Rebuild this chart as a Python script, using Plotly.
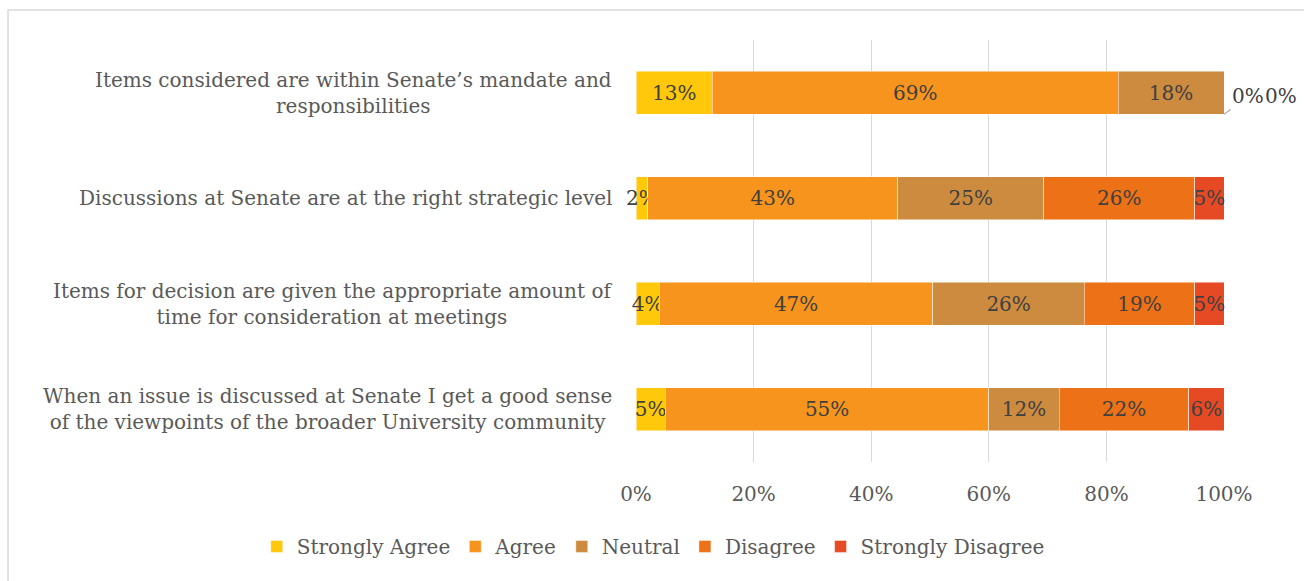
import plotly.graph_objects as go

# Survey statements (top to bottom)
statements = [
    "Items considered are within Senate’s mandate and<br>responsibilities",
    "Discussions at Senate are at the right strategic level",
    "Items for decision are given the appropriate amount of<br>time for consideration at meetings",
    "When an issue is discussed at Senate I get a good sense<br>of the viewpoints of the broader University community",
]

# Response shares (%) per statement
strongly_agree = [13, 2, 4, 5]
agree = [69, 43, 47, 55]
neutral = [18, 25, 26, 12]
disagree = [0, 26, 19, 22]
strongly_disagree = [0, 5, 5, 6]

series_names = ["Strongly Agree", "Agree", "Neutral", "Disagree", "Strongly Disagree"]
series_values = [strongly_agree, agree, neutral, disagree, strongly_disagree]
series_colors = ["#FFC80A", "#F7941D", "#CD8B3F", "#EC7117", "#E64A25"]

x_ticks = [0, 20, 40, 60, 80, 100]

FONT = "DejaVu Serif"
FS = 20
TEXT_GREY = "#595959"
LABEL_DARK = "#404040"

idx = list(range(len(statements)))

fig = go.Figure()
for name, vals, col in zip(series_names, series_values, series_colors):
    fig.add_trace(go.Bar(
        y=idx, x=vals, name=name, orientation="h",
        marker=dict(color=col, line=dict(color="rgba(255,255,255,0.6)", width=0.8)),
        text=[f"{v}%" if v > 0 else "" for v in vals],
        textposition="inside", insidetextanchor="middle", textangle=0,
        constraintext="none", cliponaxis=False,
        textfont=dict(family=FONT, size=FS, color=LABEL_DARK),
        hoverinfo="skip",
    ))

annotations = []
# Category labels, centred multi-line text right-aligned to the axis
for i, s in enumerate(statements):
    annotations.append(dict(
        x=0, y=i, xref="x", yref="y", text=s, showarrow=False,
        xanchor="right", yanchor="middle", align="center", xshift=-22,
        font=dict(family=FONT, size=FS, color=TEXT_GREY),
    ))

# Zero-valued segments are labelled just past the end of the bar
for i in idx:
    k = 0
    for vals in series_values:
        if vals[i] == 0:
            if k == 0:
                annotations.append(dict(
                    x=100, y=i + 0.205, xref="x", yref="y", text="0%",
                    showarrow=True, arrowhead=0, arrowwidth=1.2,
                    arrowcolor="#A6A6A6", ax=24, ay=-18, standoff=0,
                    font=dict(family=FONT, size=FS, color=LABEL_DARK),
                ))
            else:
                annotations.append(dict(
                    x=100, y=i, xref="x", yref="y", text="0%",
                    showarrow=False, xanchor="center", yanchor="middle",
                    xshift=24 + 33 * k, yshift=-3,
                    font=dict(family=FONT, size=FS, color=LABEL_DARK),
                ))
            k += 1

fig.update_layout(
    width=1304, height=581,
    margin=dict(l=636, r=80, t=40, b=119, autoexpand=False),
    paper_bgcolor="white", plot_bgcolor="white",
    barmode="stack", barnorm="percent", bargap=0.59,
    font=dict(family=FONT, size=FS, color=TEXT_GREY),
    showlegend=True,
    legend=dict(
        orientation="h", x=-0.645, xanchor="left", y=-0.2, yanchor="middle",
        font=dict(family=FONT, size=FS, color=TEXT_GREY),
        bgcolor="rgba(0,0,0,0)",
        traceorder="normal", itemwidth=30,
    ),
    annotations=annotations,
    shapes=[dict(
        type="rect", xref="paper", yref="paper",
        x0=-1.068, x1=1.2, y0=-0.35, y1=1.071,
        line=dict(color="#D9D9D9", width=1.5), layer="below",
    )],
)

fig.update_xaxes(
    range=[0, 100], tickvals=x_ticks, ticktext=[f"{t}%" for t in x_ticks],
    showgrid=True, gridcolor="#D9D9D9", gridwidth=1,
    zeroline=False, showline=False, ticks="",
    tickfont=dict(family=FONT, size=FS, color=TEXT_GREY),
    ticklabelstandoff=18, fixedrange=True,
)
fig.update_yaxes(
    autorange="reversed", showticklabels=False, showgrid=False,
    zeroline=False, showline=False, ticks="", fixedrange=True,
)

fig.write_html("out.html")
